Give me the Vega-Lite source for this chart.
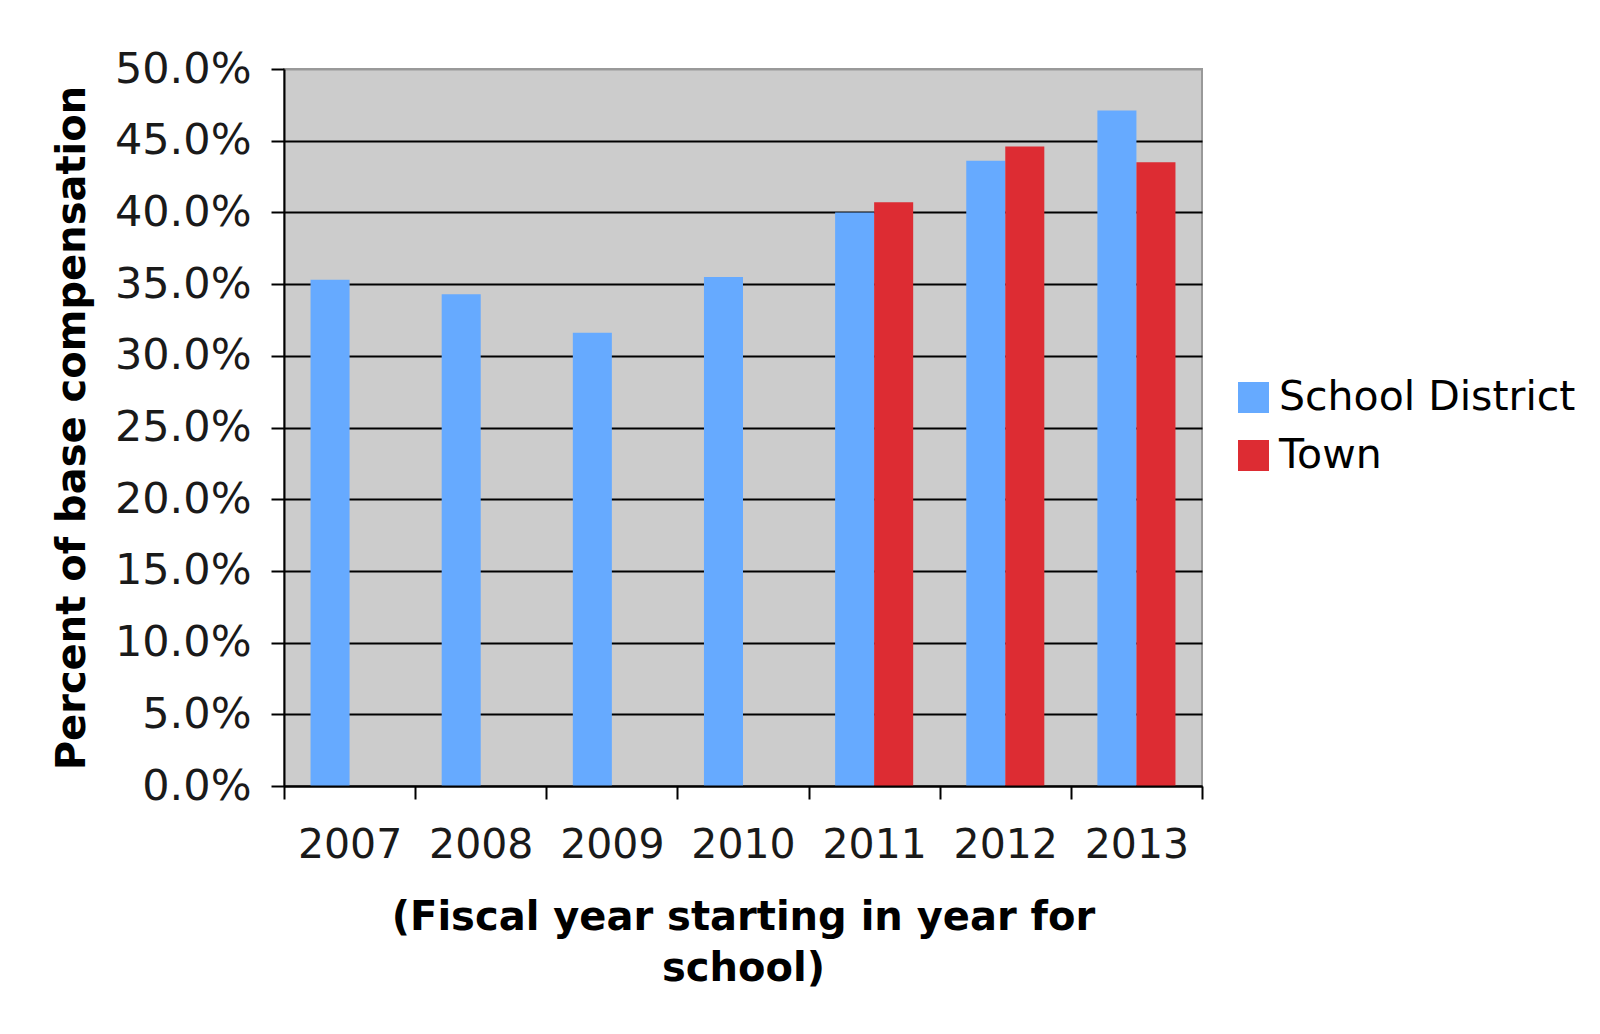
{
  "$schema": "https://vega.github.io/schema/vega-lite/v6.json",
  "autosize": {"type": "none"},
  "width": 918,
  "height": 717,
  "padding": {"left": 284, "top": 69, "right": 398, "bottom": 248},
  "background": "white",
  "data": {
    "values": [
      {"year": "2007", "series": "School District", "value": 0.353},
      {"year": "2008", "series": "School District", "value": 0.343},
      {"year": "2009", "series": "School District", "value": 0.316},
      {"year": "2010", "series": "School District", "value": 0.355},
      {"year": "2011", "series": "School District", "value": 0.400},
      {"year": "2011", "series": "Town", "value": 0.407},
      {"year": "2012", "series": "School District", "value": 0.436},
      {"year": "2012", "series": "Town", "value": 0.446},
      {"year": "2013", "series": "School District", "value": 0.471},
      {"year": "2013", "series": "Town", "value": 0.435}
    ]
  },
  "mark": {"type": "bar"},
  "encoding": {
    "x": {
      "field": "year",
      "type": "nominal",
      "scale": {"paddingInner": 0, "paddingOuter": 0},
      "axis": {
        "title": ["(Fiscal year starting in year for", "school)"],
        "titleFont": "DejaVu Sans",
        "titleFontWeight": "bold",
        "titleFontSize": 40,
        "titleColor": "black",
        "titleLineHeight": 51,
        "titlePadding": 32,
        "labelAngle": 0,
        "labelFont": "DejaVu Sans",
        "labelFontSize": 41,
        "labelColor": "#1a1a1a",
        "labelPadding": 26,
        "tickBand": "extent",
        "tickSize": 13,
        "tickWidth": 2,
        "tickColor": "black",
        "domainColor": "black",
        "domainWidth": 2,
        "grid": false,
        "zindex": 1
      }
    },
    "xOffset": {
      "field": "series",
      "type": "nominal",
      "scale": {"domain": ["School District", "Town"], "paddingInner": 0, "paddingOuter": 0.68}
    },
    "y": {
      "field": "value",
      "type": "quantitative",
      "scale": {"domain": [0, 0.5], "nice": false},
      "axis": {
        "title": "Percent of base compensation",
        "titleFont": "DejaVu Sans",
        "titleFontWeight": "bold",
        "titleFontSize": 40,
        "titleColor": "black",
        "titlePadding": 22,
        "values": [0, 0.05, 0.1, 0.15, 0.2, 0.25, 0.3, 0.35, 0.4, 0.45, 0.5],
        "format": ".1%",
        "labelFont": "DejaVu Sans",
        "labelFontSize": 43,
        "labelColor": "#1a1a1a",
        "labelPadding": 20,
        "tickSize": 13,
        "tickWidth": 2,
        "tickColor": "black",
        "domainColor": "black",
        "domainWidth": 2,
        "grid": true,
        "gridWidth": 2,
        "gridColor": {"condition": {"test": "datum.value >= 0.499", "value": "#999999"}, "value": "black"}
      }
    },
    "color": {
      "field": "series",
      "type": "nominal",
      "scale": {"domain": ["School District", "Town"], "range": ["#66AAFF", "#DD2C33"]},
      "legend": {
        "title": null,
        "orient": "none",
        "legendX": 949,
        "legendY": 308,
        "padding": 0,
        "symbolType": "square",
        "symbolSize": 961,
        "symbolStrokeWidth": 0,
        "symbolOpacity": 1,
        "labelFont": "DejaVu Sans",
        "labelFontSize": 41,
        "labelColor": "black",
        "labelOffset": 5,
        "labelLimit": 500,
        "rowPadding": 16
      }
    }
  },
  "config": {
    "view": {"fill": "#CCCCCC", "stroke": "#999999", "strokeWidth": 2}
  }
}
